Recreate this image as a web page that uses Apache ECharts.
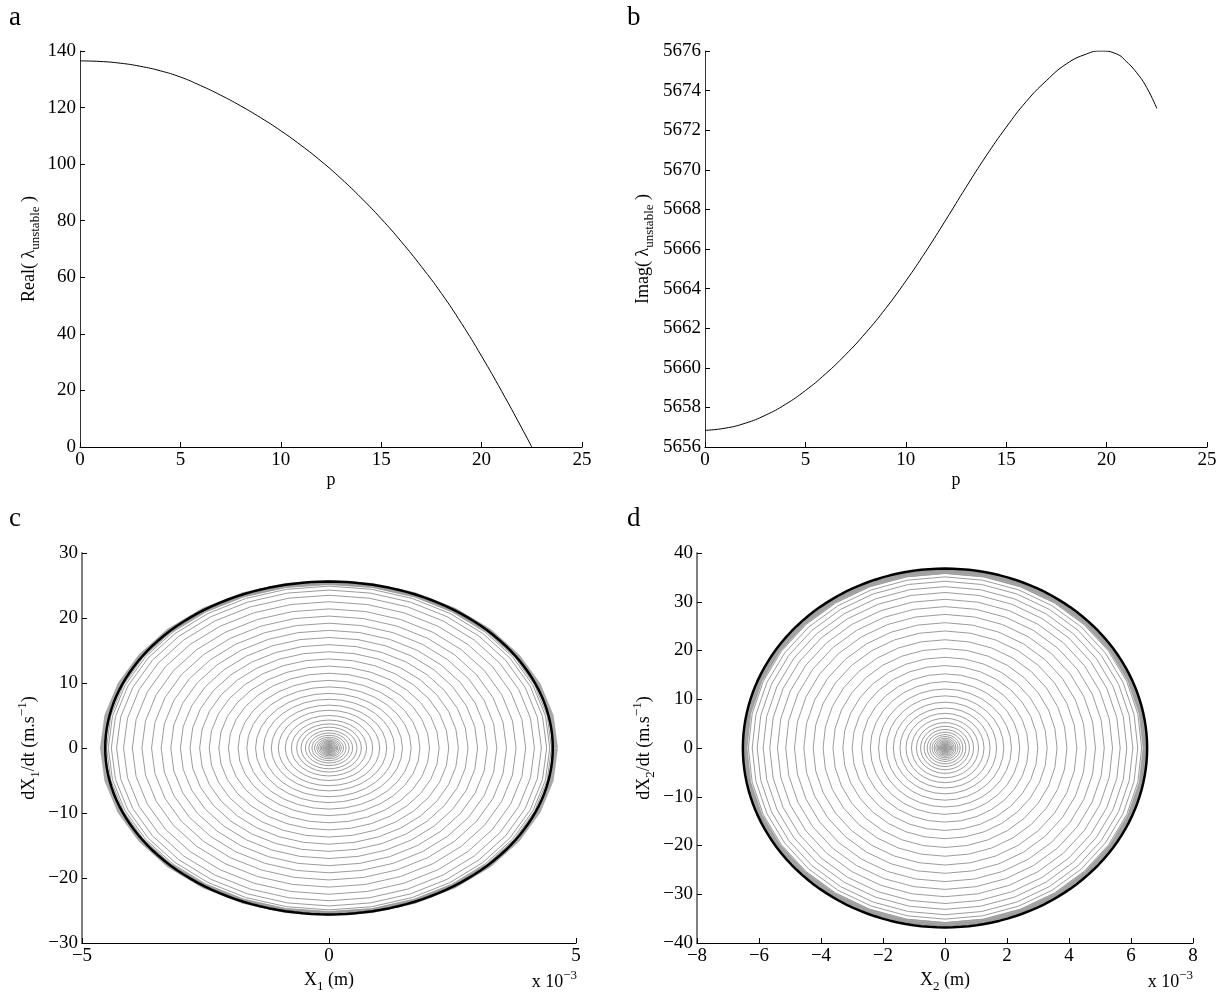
<!DOCTYPE html>
<html>
<head>
<meta charset="utf-8">
<title>Unstable eigenvalue and phase portraits</title>
<script src="https://cdn.jsdelivr.net/npm/echarts@6.0.0/dist/echarts.min.js"></script>
<style>
  html, body { margin: 0; padding: 0; background: #fff; }
  #chart { width: 1222px; height: 996px; }
</style>
</head>
<body>
<div id="chart"></div>
<script>
// a: real part of the unstable eigenvalue against p
const pReal = [0, 1, 2, 3, 4, 5, 6, 7, 8, 9, 10, 11, 12, 13, 14, 15, 16, 17, 18, 19, 20, 21, 22, 22.5];
const realLambda = [136.5, 136.3, 135.7, 134.6, 133.0, 130.8, 127.8, 124.4, 120.6, 116.4, 111.8,
  106.7, 101.1, 94.9, 88.1, 80.7, 72.6, 63.8, 54.3, 43.7, 32.1, 19.7, 6.7, 0];

// b: imaginary part of the unstable eigenvalue against p
const pImag = [0, 1, 2, 3, 4, 5, 6, 7, 8, 9, 10, 11, 12, 13, 14, 15, 16, 17, 18, 19, 19.7,
  20.5, 21, 21.5, 22, 22.5];
const imagLambda = [5656.84, 5656.95, 5657.2, 5657.6, 5658.15, 5658.85, 5659.69, 5660.66, 5661.76,
  5663.0, 5664.38, 5665.88, 5667.48, 5669.12, 5670.7, 5672.15, 5673.45, 5674.5, 5675.35, 5675.85,
  5676.0, 5675.85, 5675.45, 5674.9, 5674.15, 5673.1];

// c: amplitude of each spiral turn (dX1/dt, m/s), outer to inner, and the limit cycle [X1, dX1/dt]
const ringsC = [25.45, 25.25, 24.9, 24.3, 23.5, 22.5, 21.4, 20.3, 19.2, 18.1, 17.0, 15.9,
  14.8, 13.7, 12.6, 11.5, 10.4, 9.4, 8.4, 7.5, 6.6, 5.8, 5.0, 4.3, 3.7, 3.2, 2.7, 2.3,
  1.95, 1.65, 1.4, 1.2, 1.02, 0.87, 0.74, 0.63, 0.54, 0.46, 0.39, 0.33, 0.28, 0.24, 0.2, 0.17, 0.14];
const limitC = [4.53e-3, 25.6];

// d: same for the second mass
const ringsD = [36.5, 36.2, 35.8, 35.1, 34.2, 33.1, 31.9, 30.5, 29.0, 27.4, 25.7, 24.0,
  22.2, 20.4, 18.6, 16.9, 15.2, 13.6, 12.1, 10.7, 9.4, 8.2, 7.1, 6.1, 5.2, 4.45, 3.8,
  3.25, 2.75, 2.35, 2.0, 1.7, 1.45, 1.23, 1.05, 0.9, 0.77, 0.66, 0.56, 0.48, 0.41, 0.35, 0.3, 0.25, 0.21];
const limitD = [6.52e-3, 36.8];

// axis ranges [min, max, interval]
const rangeP = [0, 25, 5];
const rangeReal = [0, 140, 20];
const rangeImag = [5656, 5676, 2];
const rangeX1 = [-5e-3, 5e-3, 5e-3];
const rangeV1 = [-30, 30, 10];
const rangeX2 = [-8e-3, 8e-3, 2e-3];
const rangeV2 = [-40, 40, 10];

const FONT = '"Liberation Serif", "DejaVu Serif", serif';
const minus = v => (v < 0 ? '\u2212' + Math.abs(v) : String(v));

const rich = {
  n: { fontFamily: FONT, fontSize: 18, color: '#000', lineHeight: 26 },
  s: { fontFamily: FONT, fontSize: 13, color: '#000', lineHeight: 13, verticalAlign: 'bottom' },
  u: { fontFamily: FONT, fontSize: 13, color: '#000', lineHeight: 13, verticalAlign: 'top' }
};

// 采样一个椭圆（多边形），用于相图中的每一圈
function ring(ax, ay, n) {
  const pts = [];
  for (let k = 0; k <= n; k++) {
    const t = 2 * Math.PI * k / n;
    pts.push([ax * Math.cos(t), -ay * Math.sin(t)]);
  }
  return pts;
}

function axis(gridIndex, range, fmt, lineColor, lineWidth) {
  return {
    type: 'value',
    gridIndex: gridIndex,
    min: range[0],
    max: range[1],
    interval: range[2],
    splitLine: { show: false },
    axisLine: { show: true, onZero: false, lineStyle: { color: lineColor, width: lineWidth } },
    axisTick: { show: true, inside: true, length: 5, lineStyle: { color: '#000' } },
    axisLabel: { formatter: fmt, color: '#000', fontFamily: FONT, fontSize: 19, margin: 4 },
    nameLocation: 'middle',
    nameTextStyle: { fontFamily: FONT, fontSize: 18, color: '#000', rich: rich }
  };
}

const grids = [
  { left: 80, top: 51, width: 502, height: 396 },
  { left: 705, top: 51, width: 502, height: 396 },
  { left: 82, top: 553, width: 494, height: 390 },
  { left: 697, top: 553, width: 496, height: 390 }
];

const xAxes = [
  Object.assign(axis(0, rangeP, minus, '#000', 1), { name: '{n|p}', nameGap: 19 }),
  Object.assign(axis(1, rangeP, minus, '#000', 1), { name: '{n|p}', nameGap: 19 }),
  Object.assign(axis(2, rangeX1, v => minus(Math.round(v * 1000)), '#000', 1),
    { name: '{n|X}{s|1}{n| (m)}', nameGap: 24 }),
  Object.assign(axis(3, rangeX2, v => minus(Math.round(v * 1000)), '#000', 1),
    { name: '{n|X}{s|2}{n| (m)}', nameGap: 24 })
];
const yAxes = [
  Object.assign(axis(0, rangeReal, minus, '#333', 1),
    { name: '{n|Real( λ}{s|unstable}{n| )}', nameGap: 38 }),
  Object.assign(axis(1, rangeImag, minus, '#333', 1),
    { name: '{n|Imag( λ}{s|unstable}{n| )}', nameGap: 49 }),
  Object.assign(axis(2, rangeV1, minus, '#808080', 2),
    { name: '{n|dX}{s|1}{n|/dt (m.s}{u|−1}{n|)}', nameGap: 40 }),
  Object.assign(axis(3, rangeV2, minus, '#808080', 2),
    { name: '{n|dX}{s|2}{n|/dt (m.s}{u|−1}{n|)}', nameGap: 40 })
];

const series = [];

function lineSeries(idx, data, color, width, smooth) {
  return {
    type: 'line', xAxisIndex: idx, yAxisIndex: idx, data: data,
    showSymbol: false, symbol: 'none', smooth: smooth || false, silent: true,
    lineStyle: { color: color, width: width }
  };
}

series.push(lineSeries(0, pReal.map((p, i) => [p, realLambda[i]]), '#000', 1, 0.5));
series.push(lineSeries(1, pImag.map((p, i) => [p, imagLambda[i]]), '#000', 1, 0.5));

function phasePortrait(idx, rings, limit, halo) {
  const ratio = limit[0] / limit[1];
  // 极限环附近收敛的粗灰带
  series.push(lineSeries(idx, ring(limit[0] * halo[0], limit[1] * halo[1], 32), '#a8a8a8', 5));
  rings.forEach(a => {
    series.push(lineSeries(idx, ring(a * ratio, a, 32), '#9c9c9c', 1));
  });
  series.push(lineSeries(idx, ring(limit[0], limit[1], 160), '#000', 2.5));
}
phasePortrait(2, ringsC, limitC, [1.012, 0.995]);
phasePortrait(3, ringsD, limitD, [0.99, 0.985]);

function panelLetter(txt, x, y) {
  return { type: 'text', left: x, top: y, style: { text: txt, fontFamily: FONT, fontSize: 27, fill: '#000' } };
}
function scaleNote(right, top) {
  return {
    type: 'text', right: right, top: top,
    style: { text: '{n|x 10}{u|−3}', rich: rich }
  };
}

const chart = echarts.init(document.getElementById('chart'), null, { renderer: 'canvas' });
chart.setOption({
  animation: false,
  backgroundColor: '#fff',
  grid: grids,
  xAxis: xAxes,
  yAxis: yAxes,
  series: series,
  graphic: [
    panelLetter('a', 9, 4),
    panelLetter('b', 627, 4),
    panelLetter('c', 9, 505),
    panelLetter('d', 627, 505),
    scaleNote(1222 - 577, 969),
    scaleNote(1222 - 1193, 969)
  ]
});
</script>
</body>
</html>
